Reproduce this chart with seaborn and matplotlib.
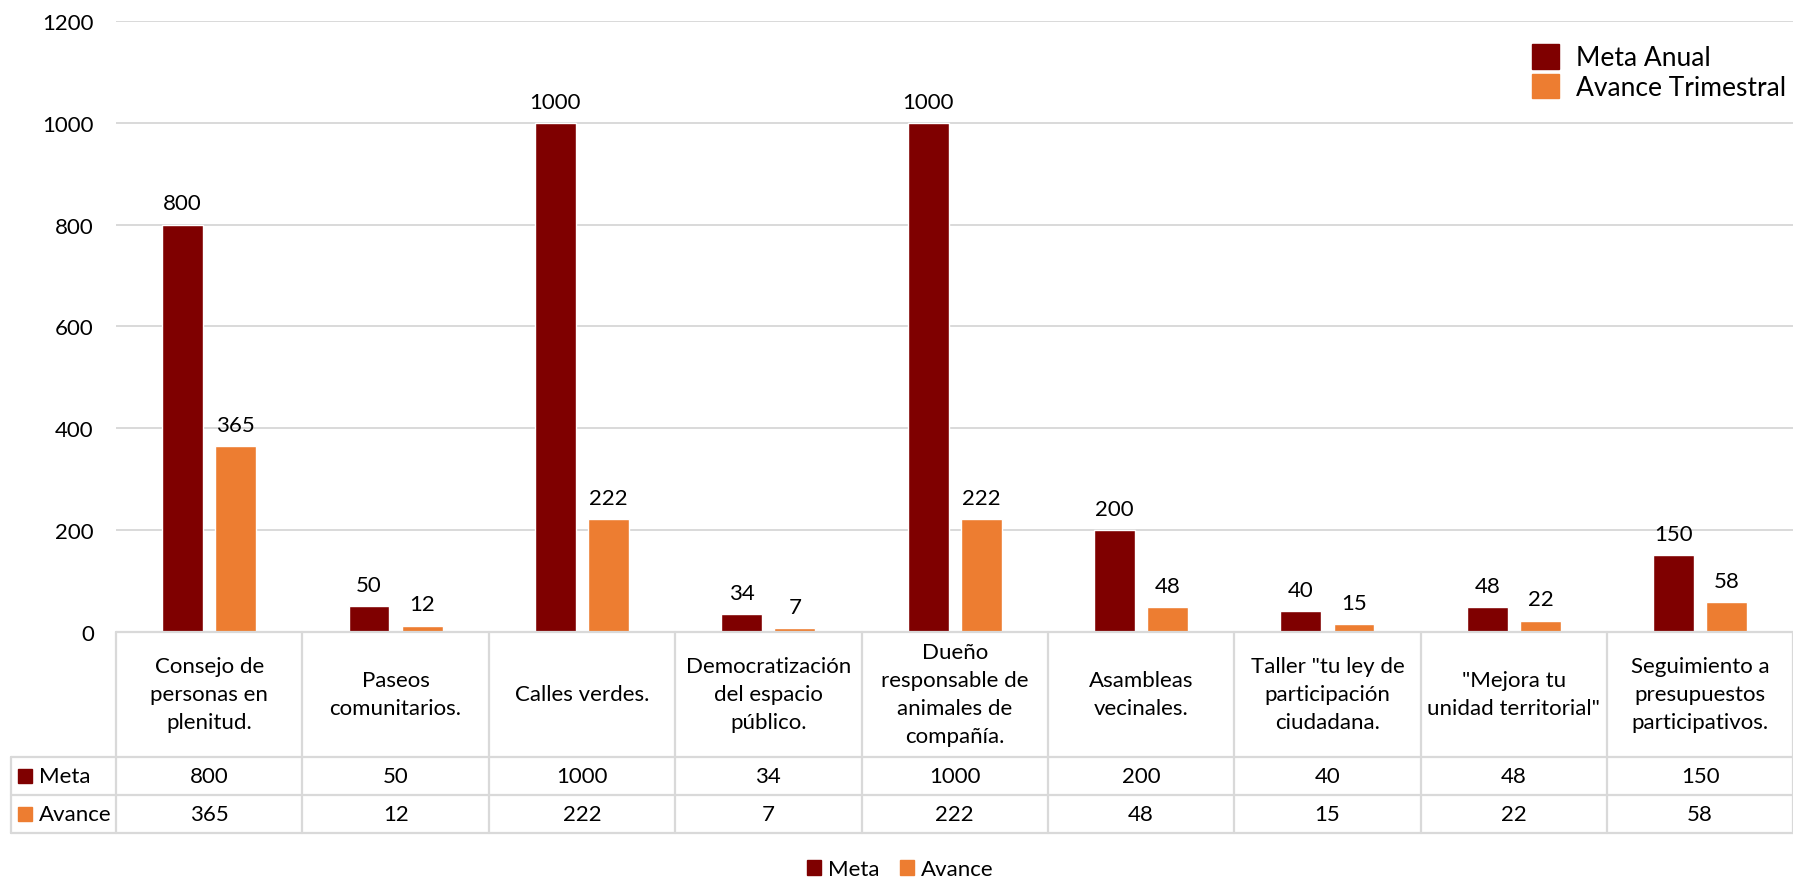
import pandas as pd
import matplotlib
matplotlib.use("Agg")
import matplotlib.pyplot as plt
import matplotlib.transforms as mtransforms
from matplotlib.patches import Patch, Rectangle
from matplotlib.lines import Line2D
import seaborn as sns

# Datos del grafico
categorias = [
    "Consejo de\npersonas en\nplenitud.",
    "Paseos\ncomunitarios.",
    "Calles verdes.",
    "Democratización\ndel espacio\npúblico.",
    "Dueño\nresponsable de\nanimales de\ncompañía.",
    "Asambleas\nvecinales.",
    "Taller \"tu ley de\nparticipación\nciudadana.",
    "\"Mejora tu\nunidad territorial\"",
    "Seguimiento a\npresupuestos\nparticipativos.",
]
meta = [800, 50, 1000, 34, 1000, 200, 40, 48, 150]
avance = [365, 12, 222, 7, 222, 48, 15, 22, 58]
series = ["Meta", "Avance"]
leyenda_sup = ["Meta Anual", "Avance Trimestral"]
yticks = [0, 200, 400, 600, 800, 1000, 1200]
colores = ["#7F0000", "#ED7D31"]
gris = "#D9D9D9"

W, H = 1793, 879
FS = 16
sns.set_theme(style="white")
plt.rcParams["font.family"] = ["Lato", "DejaVu Sans"]
plt.rcParams["text.color"] = "black"
plt.rcParams["ytick.color"] = "black"

fig = plt.figure(figsize=(W / 100 + 0.004, H / 100 + 0.009), dpi=100)
alto_ax = 610
ax = fig.add_axes([116 / W, (H - 632) / H, (W - 116) / W, alto_ax / H])

df = pd.DataFrame({
    "categoria": categorias * 2,
    "serie": [series[0]] * len(meta) + [series[1]] * len(avance),
    "valor": meta + avance,
})
sns.barplot(data=df, x="categoria", y="valor", hue="serie", hue_order=series,
            palette=colores, saturation=1, width=0.57, gap=0.23,
            legend=False, ax=ax)

for cont in ax.containers:
    ax.bar_label(cont, fmt="%d", padding=8, fontsize=FS)

ax.set_xlim(-0.5, len(categorias) - 0.5)
ax.set_ylim(0, 1200)
ax.set_yticks(yticks)
ax.set_xticks([])
ax.set_xlabel("")
ax.set_ylabel("")
ax.grid(axis="y", color=gris, lw=1.4)
ax.set_axisbelow(True)
for s in ax.spines.values():
    s.set_visible(False)
ax.tick_params(axis="y", length=0, pad=16, labelsize=FS)

# Tabla de datos bajo el grafico
tr = mtransforms.blended_transform_factory(ax.transData, ax.transAxes)
col_px = 1677 / len(categorias)
y_enc = -125 / alto_ax
y_meta = -163 / alto_ax
y_av = -201 / alto_ax
x_izq = -0.5 - 105 / col_px
x_der = len(categorias) - 0.5


def linea(xs, ys):
    ax.add_line(Line2D(xs, ys, transform=tr, color=gris, lw=1.6, clip_on=False))


linea([-0.5, x_der], [0, 0])
for yy in [y_enc, y_meta, y_av]:
    linea([x_izq, x_der], [yy, yy])
linea([x_izq, x_izq], [y_enc, y_av])
for i in range(len(categorias) + 1):
    linea([i - 0.5, i - 0.5], [0, y_av])

for i, cat in enumerate(categorias):
    ax.text(i, y_enc / 2, cat, transform=tr, ha="center", va="center",
            fontsize=FS, linespacing=1.5)
    ax.text(i, (y_enc + y_meta) / 2, str(meta[i]), transform=tr,
            ha="center", va="center", fontsize=FS)
    ax.text(i, (y_meta + y_av) / 2, str(avance[i]), transform=tr,
            ha="center", va="center", fontsize=FS)

for nombre, color, y0, y1 in [(series[0], colores[0], y_enc, y_meta),
                              (series[1], colores[1], y_meta, y_av)]:
    yc = (y0 + y1) / 2
    ax.add_patch(Rectangle((x_izq + 7 / col_px, yc - 7 / alto_ax),
                           14 / col_px, 14 / alto_ax, transform=tr,
                           color=color, clip_on=False))
    ax.text(x_izq + 28 / col_px, yc, nombre, transform=tr, ha="left",
            va="center", fontsize=FS)

# Leyenda superior
h_sup = [Patch(color=c, label=l) for c, l in zip(colores, leyenda_sup)]
ax.legend(handles=h_sup, loc="upper left", bbox_to_anchor=(1532 / W, 1 - 45 / H),
          bbox_transform=fig.transFigure, frameon=False, fontsize=19,
          handlelength=1.02, handleheight=1.06, handletextpad=0.65,
          labelspacing=0.12, borderpad=0, borderaxespad=0)

# Leyenda inferior
h_inf = [Patch(color=c, label=l) for c, l in zip(colores, series)]
fig.legend(handles=h_inf, loc="center", bbox_to_anchor=(900 / W, 1 - 869 / H),
           ncol=2, frameon=False, fontsize=FS, handlelength=0.64,
           handleheight=0.64, handletextpad=0.32, columnspacing=0.9,
           borderpad=0)

fig.savefig("out.png", dpi=100)
